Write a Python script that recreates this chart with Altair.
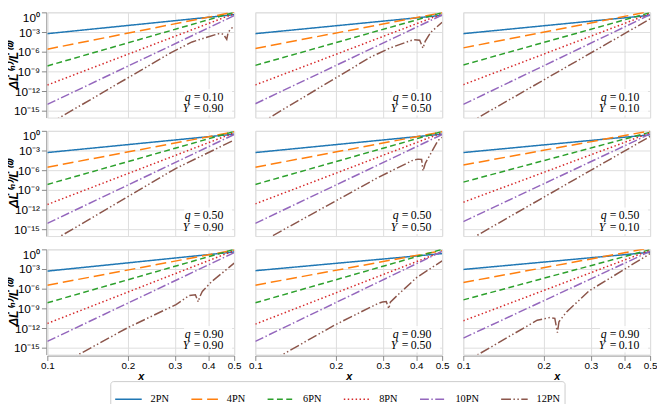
import altair as alt
import pandas as pd

# ---------------- data ----------------
series = ["2PN", "4PN", "6PN", "8PN", "10PN", "12PN"]
colors = ["#1f77b4", "#ff7f0e", "#2ca02c", "#d62728", "#9467bd", "#8c564b"]
dashes = [[1, 0], [11, 5], [6, 3.5], [1.5, 2.5], [9, 2.5, 1.5, 2.5], [10, 2.5, 1.5, 2.5, 1.5, 2.5]]

row_q = ["0.10", "0.50", "0.90"]      # panel rows (q)
col_Y = ["0.90", "0.50", "0.10"]      # panel columns (Y)

x_ends = [0.1, 0.5]                   # 2PN..10PN are straight in log-log

# log10(ΔL/L) at x=0.1 and x=0.5 for 2PN, 4PN, 6PN, 8PN, 10PN
p00_lo = [-3.24, -5.60, -8.15, -11.05, -14.00]
p00_hi = [-0.35, 0.05, 0.00, -0.20, -0.50]
p01_lo = [-3.24, -5.49, -8.06, -11.04, -13.90]
p01_hi = [-0.45, -0.05, -0.05, -0.25, -0.40]
p02_lo = [-3.24, -5.40, -8.00, -11.00, -14.00]
p02_hi = [-0.45, 0.15, -0.05, -0.20, -0.35]
p10_lo = [-3.30, -5.53, -8.15, -11.20, -14.07]
p10_hi = [-0.50, -0.15, -0.10, -0.30, -0.55]
p11_lo = [-3.30, -5.53, -8.15, -11.10, -14.07]
p11_hi = [-0.50, -0.15, -0.10, -0.30, -0.55]
p12_lo = [-3.30, -5.19, -7.80, -10.86, -13.80]
p12_hi = [-0.60, 0.00, -0.20, -0.30, -0.45]
p20_lo = [-3.31, -5.45, -8.13, -11.27, -14.00]
p20_hi = [-0.40, -0.10, 0.00, -0.20, -0.50]
p21_lo = [-3.25, -5.45, -8.13, -11.37, -14.00]
p21_hi = [-0.65, -0.20, 0.00, -0.35, -0.30]
p22_lo = [-3.06, -5.04, -7.69, -10.87, -13.50]
p22_hi = [-0.45, 0.20, -0.05, -0.15, -0.30]

# 12PN curves (x, log10 value), with the sign-change dips
p00_12x = [0.1, 0.294, 0.348, 0.401, 0.437, 0.455, 0.469, 0.475, 0.5]
p00_12y = [-17.1, -6.0, -4.5, -3.7, -3.25, -3.3, -4.1, -3.0, -2.0]
p01_12x = [0.1, 0.270, 0.320, 0.390, 0.412, 0.424, 0.432, 0.454, 0.5]
p01_12y = [-17.3, -6.8, -5.4, -4.15, -4.25, -5.45, -4.4, -3.0, -1.5]
p02_12x = [0.1, 0.5]
p02_12y = [-17.3, -1.0]
p10_12x = [0.1, 0.303, 0.5]
p10_12y = [-17.2, -5.7, -1.4]
p11_12x = [0.1, 0.286, 0.390, 0.406, 0.419, 0.424, 0.433, 0.482, 0.5]
p11_12y = [-17.4, -7.16, -4.44, -4.3, -4.35, -6.1, -4.9, -1.48, -1.0]
p12_12x = [0.1, 0.5]
p12_12y = [-17.1, -0.84]
p20_12x = [0.1, 0.2008, 0.303, 0.339, 0.358, 0.367, 0.371, 0.380, 0.412, 0.5]
p20_12y = [-18.6, -11.87, -8.4, -7.04, -6.9, -8.0, -7.3, -6.4, -4.9, -2.1]
p21_12x = [0.1, 0.198, 0.286, 0.299, 0.309, 0.316, 0.320, 0.344, 0.401, 0.5]
p21_12y = [-18.35, -11.52, -8.28, -8.0, -7.95, -9.03, -8.03, -6.8, -4.3, -1.76]
p22_12x = [0.1, 0.189, 0.211, 0.220, 0.225, 0.228, 0.2435, 0.296, 0.5]
p22_12y = [-17.3, -10.78, -10.37, -10.5, -12.66, -11.0, -9.52, -6.3, -0.65]

y_ticks = [1e-15, 1e-12, 1e-9, 1e-6, 1e-3, 1.0]
x_ticks = [0.1, 0.2, 0.3, 0.4, 0.5]

panels = {
    (0, 0): (p00_lo, p00_hi, p00_12x, p00_12y),
    (0, 1): (p01_lo, p01_hi, p01_12x, p01_12y),
    (0, 2): (p02_lo, p02_hi, p02_12x, p02_12y),
    (1, 0): (p10_lo, p10_hi, p10_12x, p10_12y),
    (1, 1): (p11_lo, p11_hi, p11_12x, p11_12y),
    (1, 2): (p12_lo, p12_hi, p12_12x, p12_12y),
    (2, 0): (p20_lo, p20_hi, p20_12x, p20_12y),
    (2, 1): (p21_lo, p21_hi, p21_12x, p21_12y),
    (2, 2): (p22_lo, p22_hi, p22_12x, p22_12y),
}

records = []
for (r, c), (lo, hi, bx, by) in panels.items():
    for i in range(5):
        for xv, dv in zip(x_ends, [lo[i], hi[i]]):
            records.append(dict(kind="line", row=r, col=c, series=series[i], x=xv, y=10 ** dv))
    for xv, dv in zip(bx, by):
        records.append(dict(kind="line", row=r, col=c, series="12PN", x=xv, y=10 ** dv))
    records.append(dict(kind="label", row=r, col=c, qv=row_q[r], Yv=col_Y[c]))
df = pd.DataFrame(records)

serif = "Liberation Serif"

y_label_expr = (
    "datum.value >= 0.5 ? '10⁰' : datum.value >= 0.0005 ? '10⁻³' : "
    "datum.value >= 0.0000005 ? '10⁻⁶' : datum.value >= 0.0000000005 ? '10⁻⁹' : "
    "datum.value >= 0.0000000000005 ? '10⁻¹²' : '10⁻¹⁵'"
)

legend = alt.Legend(
    title=None, orient="none", legendX=64, legendY=375, direction="horizontal",
    columns=6, symbolType="stroke", symbolSize=729, symbolStrokeWidth=1.5,
    labelFont=serif, labelFontSize=10.5, labelColor="black", labelOffset=8,
    columnPadding=19.5, padding=4, strokeColor="#cccccc", fillColor="white",
    cornerRadius=3,
)

lines = alt.Chart().transform_filter(alt.datum.kind == "line").mark_line(
    clip=True, strokeWidth=1.5
).encode(
    x=alt.X("x:Q", scale=alt.Scale(type="log", domain=[0.1, 0.5], nice=False),
            axis=alt.Axis(values=x_ticks, format=".1f", title="x", labelFlush=False,
                          labelOverlap=False, labelPadding=0.5,
                          titleFontStyle="italic", titlePadding=0)),
    y=alt.Y("y:Q", scale=alt.Scale(type="log", domain=[1e-16, 1.0], nice=False),
            axis=alt.Axis(values=y_ticks, labelExpr=y_label_expr, labelFlush=1,
                          labelOverlap=False, labelFontSize=12, title="ΔL̇⁽ⁿ⁾/L̇⁽⁰⁾",
                          titleFontStyle="italic", titleX=-33, titleBaseline="middle",
                          titleFontSize=12.5)),
    color=alt.Color("series:N", scale=alt.Scale(domain=series, range=colors), legend=legend),
    strokeDash=alt.StrokeDash("series:N", scale=alt.Scale(domain=series, range=dashes), legend=legend),
)

lab = alt.Chart().transform_filter(alt.datum.kind == "label")
box = lab.mark_rect(fill="white", opacity=0.85, cornerRadius=3).encode(
    x=alt.value(139), x2=alt.value(188), y=alt.value(78), y2=alt.value(105)
)
txt = dict(font=serif, fontSize=12, baseline="alphabetic", color="black")
t_q = lab.mark_text(align="right", fontStyle="italic", **txt).encode(
    x=alt.value(145.7), y=alt.value(90), text=alt.value("q"))
t_e1 = lab.mark_text(align="center", **txt).encode(
    x=alt.value(152.3), y=alt.value(90), text=alt.value("="))
t_v1 = lab.mark_text(align="left", **txt).encode(
    x=alt.value(158), y=alt.value(90), text="qv:N")
t_Y = lab.mark_text(align="right", fontStyle="italic", **txt).encode(
    x=alt.value(144.5), y=alt.value(101.6), text=alt.value("Y"))
t_e2 = lab.mark_text(align="center", **txt).encode(
    x=alt.value(152.3), y=alt.value(101.6), text=alt.value("="))
t_v2 = lab.mark_text(align="left", **txt).encode(
    x=alt.value(158), y=alt.value(101.6), text="Yv:N")

panel = alt.layer(box, lines, t_q, t_e1, t_v1, t_Y, t_e2, t_v2, data=df).properties(
    width=190, height=107
)

hdr = alt.Header(labels=False, title=None, labelPadding=0, titlePadding=0)
chart = panel.facet(
    row=alt.Row("row:O", header=hdr),
    column=alt.Column("col:O", header=hdr),
    spacing={"row": 11.5, "column": 19.5},
).properties(
    padding=0
).configure_view(
    stroke="#333333", strokeWidth=1
).configure_axis(
    grid=True, gridColor="#cccccc", gridWidth=0.8, domain=False,
    tickColor="#333333", tickSize=3.5, tickWidth=0.8, labelPadding=1.5,
    labelFont=serif, labelFontSize=11, labelColor="black",
    titleFont=serif, titleFontSize=12, titleFontWeight="normal", titleColor="black",
).configure(background="white")

chart.save("out.html", embed_options={"renderer": "svg", "actions": False})
